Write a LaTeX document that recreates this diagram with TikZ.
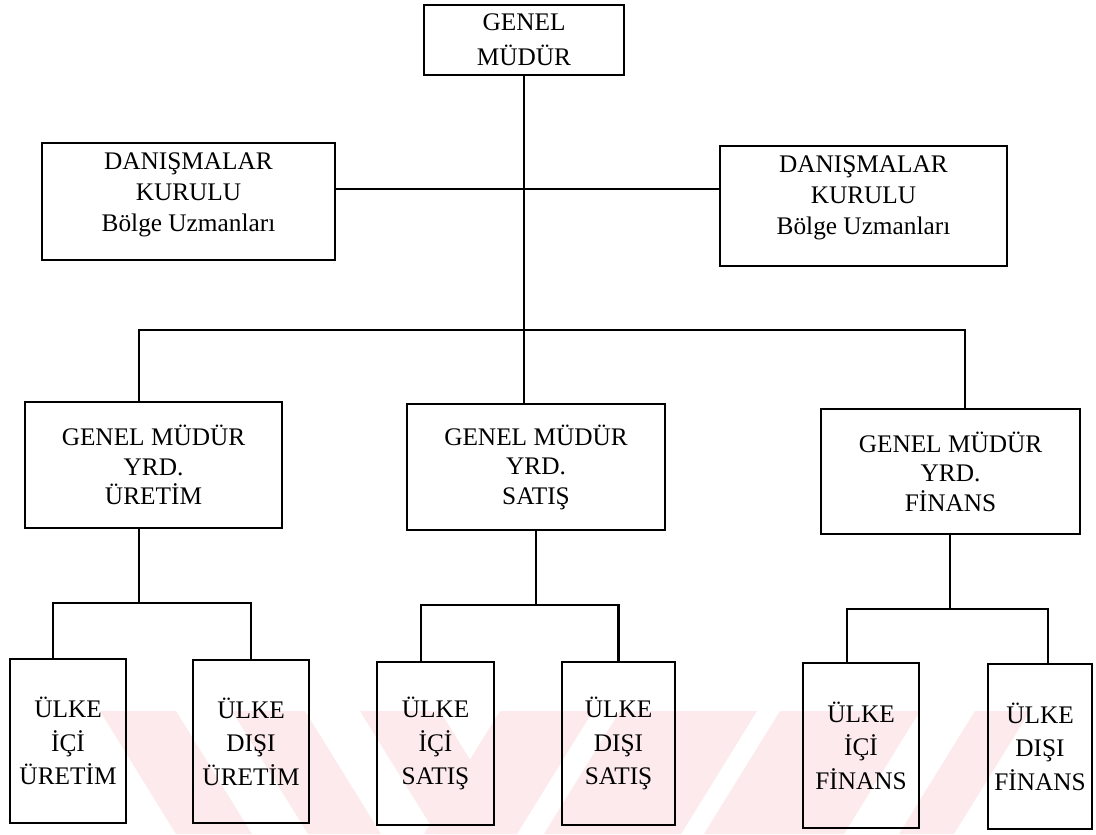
\documentclass[tikz,border=0pt]{standalone}
\usepackage{fontspec}
\setmainfont{Liberation Serif}
\usetikzlibrary{calc}
\definecolor{wmpink}{RGB}{253,234,236}
\tikzset{
  unitbox/.style={draw=black, line width=2pt, rectangle, inner sep=0pt, outer sep=0pt},
  wire/.style={draw=black, line width=1.7pt, line cap=butt, line join=miter},
  toptxt/.style={align=center, font=\fontsize{18pt}{24.9pt}\selectfont},
  advtxt/.style={align=center, font=\fontsize{18pt}{21.9pt}\selectfont},
  midtxt/.style={align=center, font=\fontsize{18pt}{21pt}\selectfont},
  lowtxt/.style={align=center, font=\fontsize{18pt}{23.8pt}\selectfont},
  band/.style={fill=wmpink, draw=none}
}
\begin{document}
\begin{tikzpicture}[x=0.025cm, y=-0.025cm]
\useasboundingbox (0,0) rectangle (1096,834);
\fill[white] (0,0) rectangle (1096,834);

% faint diagonal bands across the bottom strip
\begin{scope}
  \clip (0,711) rectangle (1096,834);
  \foreach \a/\b in {100/176, 232/305, 360/440}
    \fill[band] (\a,711) -- (\b,711) -- ({\b+76},834) -- ({\a+76},834) -- cycle;
  \foreach \a/\b in {500/593, 620/757, 780/920, 975/1030}
    \fill[band] (\a,711) -- (\b,711) -- ({\b-76},834) -- ({\a-76},834) -- cycle;
\end{scope}

% head of the organisation
\node[unitbox, minimum width=5cm, minimum height=1.75cm, toptxt] (gm) at (524,40) {GENEL\\MÜDÜR};

% advisory boards
\node[unitbox, minimum width=7.325cm, minimum height=2.925cm] (dl) at (188.5,201.5) {};
\node[advtxt] (dltxt) at (188.5,195) {DANIŞMALAR\\KURULU\\Bölge Uzmanları};
\node[unitbox, minimum width=7.175cm, minimum height=3cm] (dr) at (863.5,206) {};
\node[advtxt] (drtxt) at (863.5,198) {DANIŞMALAR\\KURULU\\Bölge Uzmanları};

% deputy general managers
\node[unitbox, minimum width=6.425cm, minimum height=3.15cm, midtxt] (m1) at (153.5,465) {GENEL MÜDÜR\\YRD.\\ÜRETİM};
\node[unitbox, minimum width=6.45cm, minimum height=3.15cm, midtxt] (m2) at (536,467) {GENEL MÜDÜR\\YRD.\\SATIŞ};
\node[unitbox, minimum width=6.475cm, minimum height=3.125cm, midtxt] (m3) at (950.5,471.5) {GENEL MÜDÜR\\YRD.\\FİNANS};

% domestic / foreign units
\node[unitbox, minimum width=2.9cm, minimum height=4.1cm, lowtxt] (b1) at (68,741) {ÜLKE\\İÇİ\\ÜRETİM};
\node[unitbox, minimum width=2.9cm, minimum height=4.075cm, lowtxt] (b2) at (251,741.5) {ÜLKE\\DIŞI\\ÜRETİM};
\node[unitbox, minimum width=2.925cm, minimum height=4.075cm, lowtxt] (b3) at (435.5,743.5) {ÜLKE\\İÇİ\\SATIŞ};
\node[unitbox, minimum width=2.825cm, minimum height=4.075cm, lowtxt] (b4) at (618.5,743.5) {ÜLKE\\DIŞI\\SATIŞ};
\node[unitbox, minimum width=2.9cm, minimum height=4.125cm, lowtxt] (b5) at (861,745.5) {ÜLKE\\İÇİ\\FİNANS};
\node[unitbox, minimum width=2.6cm, minimum height=4.125cm, lowtxt] (b6) at (1040,746.5) {ÜLKE\\DIŞI\\FİNANS};

% junction points of the connectors
\coordinate (adv) at (524,189);
\coordinate (busl) at (139,330);
\coordinate (busr) at (965,330);
\coordinate (s1) at (139,603);
\coordinate (s1l) at (53,603);
\coordinate (s1r) at (251,603);
\coordinate (s2) at (536,605);
\coordinate (s2l) at (421,605);
\coordinate (s2r) at (618.5,605);
\coordinate (s3) at (950,609);
\coordinate (s3l) at (847,609);
\coordinate (s3r) at (1048,609);

% trunk and advisory line
\draw[wire] (gm.south) -- (gm.south |- m2.north);
\draw[wire] (dl.east |- adv) -- (dr.west |- adv);

% bus to the deputies
\draw[wire] (busl |- m1.north) -- (busl) -- (busr) -- (busr |- m3.north);

% sub-trees
\draw[wire] (s1 |- m1.south) -- (s1);
\draw[wire] (s1l |- b1.north) -- (s1l) -- (s1r) -- (s1r |- b2.north);
\draw[wire] (s2 |- m2.south) -- (s2);
\draw[wire] (s2l |- b3.north) -- (s2l) -- (s2r) -- (s2r |- b4.north);
\draw[wire] (s3 |- m3.south) -- (s3);
\draw[wire] (s3l |- b5.north) -- (s3l) -- (s3r) -- (s3r |- b6.north);
\end{tikzpicture}
\end{document}
